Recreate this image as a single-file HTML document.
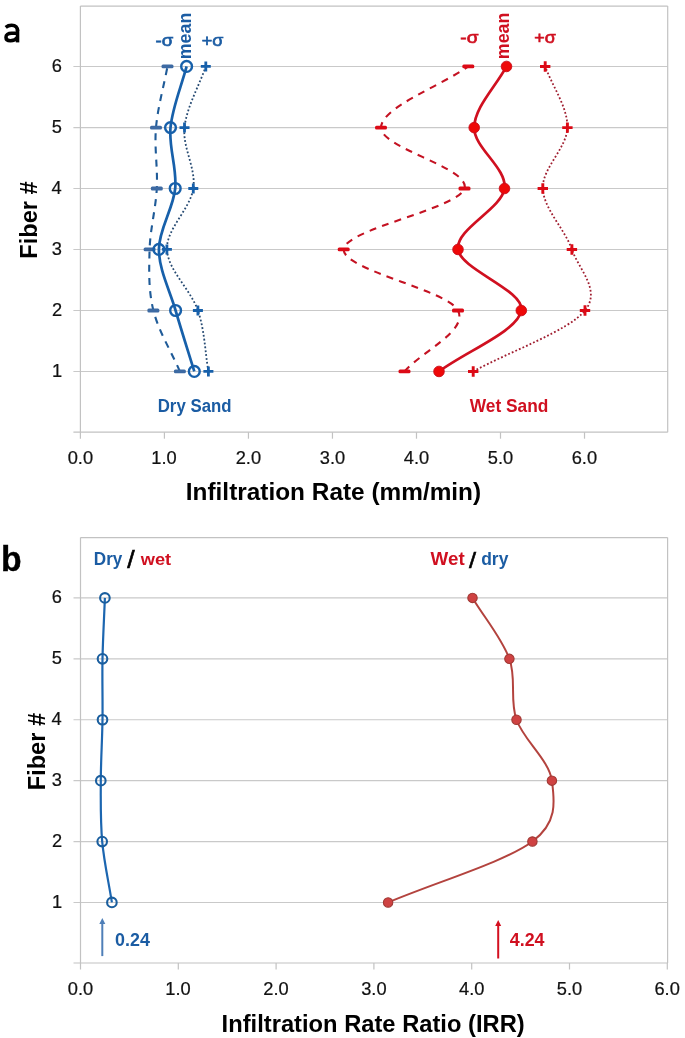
<!DOCTYPE html><html><head><meta charset="utf-8"><style>html,body{margin:0;padding:0;background:#fff;width:685px;height:1038px;overflow:hidden}svg{display:block;will-change:transform}</style></head><body><svg width="685" height="1038" viewBox="0 0 685 1038">
<rect width="685" height="1038" fill="#fff"/>
<line x1="73.4" y1="371.45" x2="667.7" y2="371.45" stroke="#c9c9c9" stroke-width="1.15"/>
<line x1="73.4" y1="310.5" x2="667.7" y2="310.5" stroke="#c9c9c9" stroke-width="1.15"/>
<line x1="73.4" y1="249.45" x2="667.7" y2="249.45" stroke="#c9c9c9" stroke-width="1.15"/>
<line x1="73.4" y1="188.5" x2="667.7" y2="188.5" stroke="#c9c9c9" stroke-width="1.15"/>
<line x1="73.4" y1="127.6" x2="667.7" y2="127.6" stroke="#c9c9c9" stroke-width="1.15"/>
<line x1="73.4" y1="66.45" x2="667.7" y2="66.45" stroke="#c9c9c9" stroke-width="1.15"/>
<line x1="80.4" y1="6.1" x2="667.7" y2="6.1" stroke="#c2c2c2" stroke-width="1.2"/>
<line x1="667.7" y1="6.1" x2="667.7" y2="432.2" stroke="#c2c2c2" stroke-width="1.2"/>
<line x1="80.4" y1="6.1" x2="80.4" y2="438.7" stroke="#c2c2c2" stroke-width="1.2"/>
<line x1="73.4" y1="432.2" x2="667.7" y2="432.2" stroke="#c2c2c2" stroke-width="1.2"/>
<line x1="164.42" y1="432.2" x2="164.42" y2="438.7" stroke="#c2c2c2" stroke-width="1.2"/>
<line x1="248.44" y1="432.2" x2="248.44" y2="438.7" stroke="#c2c2c2" stroke-width="1.2"/>
<line x1="332.46" y1="432.2" x2="332.46" y2="438.7" stroke="#c2c2c2" stroke-width="1.2"/>
<line x1="416.48" y1="432.2" x2="416.48" y2="438.7" stroke="#c2c2c2" stroke-width="1.2"/>
<line x1="500.5" y1="432.2" x2="500.5" y2="438.7" stroke="#c2c2c2" stroke-width="1.2"/>
<line x1="584.52" y1="432.2" x2="584.52" y2="438.7" stroke="#c2c2c2" stroke-width="1.2"/>
<line x1="73.5" y1="902.45" x2="667.6" y2="902.45" stroke="#c9c9c9" stroke-width="1.15"/>
<line x1="73.5" y1="841.55" x2="667.6" y2="841.55" stroke="#c9c9c9" stroke-width="1.15"/>
<line x1="73.5" y1="780.65" x2="667.6" y2="780.65" stroke="#c9c9c9" stroke-width="1.15"/>
<line x1="73.5" y1="719.75" x2="667.6" y2="719.75" stroke="#c9c9c9" stroke-width="1.15"/>
<line x1="73.5" y1="658.85" x2="667.6" y2="658.85" stroke="#c9c9c9" stroke-width="1.15"/>
<line x1="73.5" y1="597.9" x2="667.6" y2="597.9" stroke="#c9c9c9" stroke-width="1.15"/>
<line x1="80.5" y1="537.6" x2="667.6" y2="537.6" stroke="#c2c2c2" stroke-width="1.2"/>
<line x1="667.6" y1="537.6" x2="667.6" y2="963" stroke="#c2c2c2" stroke-width="1.2"/>
<line x1="80.5" y1="537.6" x2="80.5" y2="969.5" stroke="#c2c2c2" stroke-width="1.2"/>
<line x1="73.5" y1="963" x2="667.6" y2="963" stroke="#c2c2c2" stroke-width="1.2"/>
<line x1="178.3" y1="963" x2="178.3" y2="969.5" stroke="#c2c2c2" stroke-width="1.2"/>
<line x1="276.1" y1="963" x2="276.1" y2="969.5" stroke="#c2c2c2" stroke-width="1.2"/>
<line x1="373.9" y1="963" x2="373.9" y2="969.5" stroke="#c2c2c2" stroke-width="1.2"/>
<line x1="471.7" y1="963" x2="471.7" y2="969.5" stroke="#c2c2c2" stroke-width="1.2"/>
<line x1="569.5" y1="963" x2="569.5" y2="969.5" stroke="#c2c2c2" stroke-width="1.2"/>
<line x1="667.3" y1="963" x2="667.3" y2="969.5" stroke="#c2c2c2" stroke-width="1.2"/>
<text transform="translate(67.7 463.52) scale(0.1827 0.1817)" font-family="Liberation Sans" font-size="100" fill="#111" stroke="#111" stroke-width="1.2">0.0</text>
<text transform="translate(67.8 994.62) scale(0.1827 0.1817)" font-family="Liberation Sans" font-size="100" fill="#111" stroke="#111" stroke-width="1.2">0.0</text>
<text transform="translate(151.36 463.52) scale(0.1827 0.1817)" font-family="Liberation Sans" font-size="100" fill="#111" stroke="#111" stroke-width="1.2">1.0</text>
<text transform="translate(165.24 994.62) scale(0.1827 0.1817)" font-family="Liberation Sans" font-size="100" fill="#111" stroke="#111" stroke-width="1.2">1.0</text>
<text transform="translate(235.65 463.52) scale(0.1827 0.1817)" font-family="Liberation Sans" font-size="100" fill="#111" stroke="#111" stroke-width="1.2">2.0</text>
<text transform="translate(263.31 994.62) scale(0.1827 0.1817)" font-family="Liberation Sans" font-size="100" fill="#111" stroke="#111" stroke-width="1.2">2.0</text>
<text transform="translate(319.76 463.52) scale(0.1827 0.1817)" font-family="Liberation Sans" font-size="100" fill="#111" stroke="#111" stroke-width="1.2">3.0</text>
<text transform="translate(361.2 994.62) scale(0.1827 0.1817)" font-family="Liberation Sans" font-size="100" fill="#111" stroke="#111" stroke-width="1.2">3.0</text>
<text transform="translate(403.87 463.52) scale(0.1827 0.1817)" font-family="Liberation Sans" font-size="100" fill="#111" stroke="#111" stroke-width="1.2">4.0</text>
<text transform="translate(459.09 994.62) scale(0.1827 0.1817)" font-family="Liberation Sans" font-size="100" fill="#111" stroke="#111" stroke-width="1.2">4.0</text>
<text transform="translate(487.8 463.52) scale(0.1827 0.1817)" font-family="Liberation Sans" font-size="100" fill="#111" stroke="#111" stroke-width="1.2">5.0</text>
<text transform="translate(556.8 994.62) scale(0.1827 0.1817)" font-family="Liberation Sans" font-size="100" fill="#111" stroke="#111" stroke-width="1.2">5.0</text>
<text transform="translate(571.64 463.52) scale(0.1827 0.1817)" font-family="Liberation Sans" font-size="100" fill="#111" stroke="#111" stroke-width="1.2">6.0</text>
<text transform="translate(654.42 994.62) scale(0.1827 0.1817)" font-family="Liberation Sans" font-size="100" fill="#111" stroke="#111" stroke-width="1.2">6.0</text>
<text transform="translate(51.98 376.95) scale(0.1827 0.1817)" font-family="Liberation Sans" font-size="100" fill="#111" stroke="#111" stroke-width="1.2">1</text>
<text transform="translate(51.98 907.95) scale(0.1827 0.1817)" font-family="Liberation Sans" font-size="100" fill="#111" stroke="#111" stroke-width="1.2">1</text>
<text transform="translate(51.98 316) scale(0.1827 0.1817)" font-family="Liberation Sans" font-size="100" fill="#111" stroke="#111" stroke-width="1.2">2</text>
<text transform="translate(51.98 847.05) scale(0.1827 0.1817)" font-family="Liberation Sans" font-size="100" fill="#111" stroke="#111" stroke-width="1.2">2</text>
<text transform="translate(51.8 254.95) scale(0.1827 0.1817)" font-family="Liberation Sans" font-size="100" fill="#111" stroke="#111" stroke-width="1.2">3</text>
<text transform="translate(51.8 786.15) scale(0.1827 0.1817)" font-family="Liberation Sans" font-size="100" fill="#111" stroke="#111" stroke-width="1.2">3</text>
<text transform="translate(51.62 194) scale(0.1827 0.1817)" font-family="Liberation Sans" font-size="100" fill="#111" stroke="#111" stroke-width="1.2">4</text>
<text transform="translate(51.62 725.25) scale(0.1827 0.1817)" font-family="Liberation Sans" font-size="100" fill="#111" stroke="#111" stroke-width="1.2">4</text>
<text transform="translate(51.8 133.1) scale(0.1827 0.1817)" font-family="Liberation Sans" font-size="100" fill="#111" stroke="#111" stroke-width="1.2">5</text>
<text transform="translate(51.8 664.35) scale(0.1827 0.1817)" font-family="Liberation Sans" font-size="100" fill="#111" stroke="#111" stroke-width="1.2">5</text>
<text transform="translate(51.8 71.95) scale(0.1827 0.1817)" font-family="Liberation Sans" font-size="100" fill="#111" stroke="#111" stroke-width="1.2">6</text>
<text transform="translate(51.8 603.4) scale(0.1827 0.1817)" font-family="Liberation Sans" font-size="100" fill="#111" stroke="#111" stroke-width="1.2">6</text>
<path d="M179.9 371.45 C171.07 351.13 158.45 330.83 153.4 310.5 C148.35 290.17 149.03 269.78 149.6 249.45 C150.17 229.12 155.73 208.81 156.8 188.5 C157.87 168.19 154.22 147.94 156 127.6 C157.78 107.26 163.67 86.83 167.5 66.45" fill="none" stroke="#1f5b98" stroke-width="2.1" stroke-dasharray="7 6.2"/>
<path d="M208.4 371.45 C204.9 351.13 204.82 330.83 197.9 310.5 C190.98 290.17 167.67 269.78 166.9 249.45 C166.13 229.12 190.37 208.81 193.3 188.5 C196.23 168.19 182.42 147.94 184.5 127.6 C186.58 107.26 198.7 86.83 205.8 66.45" fill="none" stroke="#264a72" stroke-width="1.8" stroke-dasharray="1.8 2.1"/>
<path d="M186.6 66.45 C181.23 86.83 172.4 107.26 170.5 127.6 C168.6 147.94 177.13 168.19 175.2 188.5 C173.27 208.81 158.83 229.12 158.9 249.45 C158.97 269.78 169.7 290.17 175.6 310.5 C181.5 330.83 188.07 351.13 194.3 371.45" fill="none" stroke="#1760aa" stroke-width="2.7"/>
<path d="M404.5 371.45 C422.33 351.13 468.13 330.83 458 310.5 C447.87 290.17 342.62 269.78 343.7 249.45 C344.78 229.12 458.28 208.81 464.5 188.5 C470.72 168.19 380.37 147.94 381 127.6 C381.63 107.26 439.2 86.83 468.3 66.45" fill="none" stroke="#c41222" stroke-width="2.1" stroke-dasharray="7 6.2"/>
<path d="M473.2 371.45 C510.47 351.13 568.55 330.83 585 310.5 C601.45 290.17 578.93 269.78 571.9 249.45 C564.87 229.12 543.55 208.81 542.8 188.5 C542.05 168.19 567 147.94 567.4 127.6 C567.8 107.26 552.6 86.83 545.2 66.45" fill="none" stroke="#a01e30" stroke-width="1.8" stroke-dasharray="1.8 2.1"/>
<path d="M506.5 66.45 C495.73 86.83 474.53 107.26 474.2 127.6 C473.87 147.94 507.2 168.19 504.5 188.5 C501.8 208.81 455.2 229.12 458 249.45 C460.8 269.78 524.47 290.17 521.3 310.5 C518.13 330.83 466.43 351.13 439 371.45" fill="none" stroke="#d01020" stroke-width="2.7"/>
<rect x="161.5" y="64.55" width="12" height="3.8" rx="1.5" fill="#3d6aa3"/>
<rect x="150" y="125.7" width="12" height="3.8" rx="1.5" fill="#3d6aa3"/>
<rect x="150.8" y="186.6" width="12" height="3.8" rx="1.5" fill="#3d6aa3"/>
<rect x="143.6" y="247.55" width="12" height="3.8" rx="1.5" fill="#3d6aa3"/>
<rect x="147.4" y="308.6" width="12" height="3.8" rx="1.5" fill="#3d6aa3"/>
<rect x="173.9" y="369.55" width="12" height="3.8" rx="1.5" fill="#3d6aa3"/>
<path d="M200.8 66.45H210.8M205.8 61.45V71.45" stroke="#1760aa" stroke-width="2.8"/>
<path d="M179.5 127.6H189.5M184.5 122.6V132.6" stroke="#1760aa" stroke-width="2.8"/>
<path d="M188.3 188.5H198.3M193.3 183.5V193.5" stroke="#1760aa" stroke-width="2.8"/>
<path d="M161.9 249.45H171.9M166.9 244.45V254.45" stroke="#1760aa" stroke-width="2.8"/>
<path d="M192.9 310.5H202.9M197.9 305.5V315.5" stroke="#1760aa" stroke-width="2.8"/>
<path d="M203.4 371.45H213.4M208.4 366.45V376.45" stroke="#1760aa" stroke-width="2.8"/>
<circle cx="186.6" cy="66.45" r="5.4" fill="none" stroke="#1760aa" stroke-width="2.4"/>
<circle cx="170.5" cy="127.6" r="5.4" fill="none" stroke="#1760aa" stroke-width="2.4"/>
<circle cx="175.2" cy="188.5" r="5.4" fill="none" stroke="#1760aa" stroke-width="2.4"/>
<circle cx="158.9" cy="249.45" r="5.4" fill="none" stroke="#1760aa" stroke-width="2.4"/>
<circle cx="175.6" cy="310.5" r="5.4" fill="none" stroke="#1760aa" stroke-width="2.4"/>
<circle cx="194.3" cy="371.45" r="5.4" fill="none" stroke="#1760aa" stroke-width="2.4"/>
<rect x="462.3" y="64.55" width="12" height="3.8" rx="1.5" fill="#dc0a16"/>
<rect x="375" y="125.7" width="12" height="3.8" rx="1.5" fill="#dc0a16"/>
<rect x="458.5" y="186.6" width="12" height="3.8" rx="1.5" fill="#dc0a16"/>
<rect x="337.7" y="247.55" width="12" height="3.8" rx="1.5" fill="#dc0a16"/>
<rect x="452" y="308.6" width="12" height="3.8" rx="1.5" fill="#dc0a16"/>
<rect x="398.5" y="369.55" width="12" height="3.8" rx="1.5" fill="#dc0a16"/>
<path d="M540 66.45H550.4M545.2 61.25V71.65" stroke="#dc0a16" stroke-width="2.9"/>
<path d="M562.2 127.6H572.6M567.4 122.4V132.8" stroke="#dc0a16" stroke-width="2.9"/>
<path d="M537.6 188.5H548M542.8 183.3V193.7" stroke="#dc0a16" stroke-width="2.9"/>
<path d="M566.7 249.45H577.1M571.9 244.25V254.65" stroke="#dc0a16" stroke-width="2.9"/>
<path d="M579.8 310.5H590.2M585 305.3V315.7" stroke="#dc0a16" stroke-width="2.9"/>
<path d="M468 371.45H478.4M473.2 366.25V376.65" stroke="#dc0a16" stroke-width="2.9"/>
<circle cx="506.5" cy="66.45" r="5.3" fill="#ee0808" stroke="#c80c1a" stroke-width="0.9"/>
<circle cx="474.2" cy="127.6" r="5.3" fill="#ee0808" stroke="#c80c1a" stroke-width="0.9"/>
<circle cx="504.5" cy="188.5" r="5.3" fill="#ee0808" stroke="#c80c1a" stroke-width="0.9"/>
<circle cx="458" cy="249.45" r="5.3" fill="#ee0808" stroke="#c80c1a" stroke-width="0.9"/>
<circle cx="521.3" cy="310.5" r="5.3" fill="#ee0808" stroke="#c80c1a" stroke-width="0.9"/>
<circle cx="439" cy="371.45" r="5.3" fill="#ee0808" stroke="#c80c1a" stroke-width="0.9"/>
<path d="M104.9 597.9 C104.1 618.22 102.9 638.54 102.5 658.85 C102.1 679.16 102.78 699.45 102.5 719.75 C102.22 740.05 100.85 760.35 100.8 780.65 C100.75 800.95 100.35 821.25 102.2 841.55 C104.05 861.85 108.67 882.15 111.9 902.45" fill="none" stroke="#1c66b0" stroke-width="2.2"/>
<path d="M472.5 597.9 C484.8 618.22 502.07 638.54 509.4 658.85 C516.73 679.16 509.42 699.45 516.5 719.75 C523.58 740.05 549.25 760.35 551.9 780.65 C554.55 800.95 558.06 822.47 532.4 841.55 C505.1 861.85 436.2 882.15 388.1 902.45" fill="none" stroke="#b3433e" stroke-width="2.0"/>
<circle cx="104.9" cy="597.9" r="4.8" fill="none" stroke="#1a5e9e" stroke-width="2.1"/>
<circle cx="102.5" cy="658.85" r="4.8" fill="none" stroke="#1a5e9e" stroke-width="2.1"/>
<circle cx="102.5" cy="719.75" r="4.8" fill="none" stroke="#1a5e9e" stroke-width="2.1"/>
<circle cx="100.8" cy="780.65" r="4.8" fill="none" stroke="#1a5e9e" stroke-width="2.1"/>
<circle cx="102.2" cy="841.55" r="4.8" fill="none" stroke="#1a5e9e" stroke-width="2.1"/>
<circle cx="111.9" cy="902.45" r="4.8" fill="none" stroke="#1a5e9e" stroke-width="2.1"/>
<circle cx="472.5" cy="597.9" r="4.7" fill="#cf4242" stroke="#a13934" stroke-width="1.1"/>
<circle cx="509.4" cy="658.85" r="4.7" fill="#cf4242" stroke="#a13934" stroke-width="1.1"/>
<circle cx="516.5" cy="719.75" r="4.7" fill="#cf4242" stroke="#a13934" stroke-width="1.1"/>
<circle cx="551.9" cy="780.65" r="4.7" fill="#cf4242" stroke="#a13934" stroke-width="1.1"/>
<circle cx="532.4" cy="841.55" r="4.7" fill="#cf4242" stroke="#a13934" stroke-width="1.1"/>
<circle cx="388.1" cy="902.45" r="4.7" fill="#cf4242" stroke="#a13934" stroke-width="1.1"/>
<line x1="102.3" y1="921.9" x2="102.3" y2="956.1" stroke="#4f7fb8" stroke-width="2.0"/>
<path d="M102.3 917.9L105.3 923.9L99.3 923.9Z" fill="#4f7fb8"/>
<line x1="498.2" y1="923.9" x2="498.2" y2="958.5" stroke="#d41020" stroke-width="2.0"/>
<path d="M498.2 919.9L501.2 925.9L495.2 925.9Z" fill="#d41020"/>
<g fill="none" stroke="#000" stroke-width="3.5"><path d="M17.55 29.5V42.4"/><path d="M5.7 27.3C7.4 25.9 9.4 25.25 11.6 25.25C15.4 25.25 17.55 27 17.55 31"/><path d="M17.55 33.3H11.6C7.9 33.3 5.95 34.8 5.95 37.2C5.95 39.5 7.7 40.7 10.4 40.7C13.4 40.7 16 39.5 17.55 37.4"/></g>
<text transform="translate(0.88 570.85) scale(0.3373 0.3541)" font-family="Liberation Sans" font-weight="bold" font-size="100" fill="#000" stroke="#000" stroke-width="1">b</text>
<text transform="translate(185.79 499.7) scale(0.2440 0.2397)" font-family="Liberation Sans" font-weight="bold" font-size="100" fill="#000">Infiltration Rate (mm/min)</text>
<text transform="translate(221.59 1032.45) scale(0.2373 0.2404)" font-family="Liberation Sans" font-weight="bold" font-size="100" fill="#000">Infiltration Rate Ratio (IRR)</text>
<text transform="translate(37.36 258.65) rotate(-90) scale(0.2357 0.2419)" font-family="Liberation Sans" font-weight="bold" font-size="100" fill="#000">Fiber #</text>
<text transform="translate(44.65 790.36) rotate(-90) scale(0.2367 0.2459)" font-family="Liberation Sans" font-weight="bold" font-size="100" fill="#000">Fiber #</text>
<text transform="translate(155.53 45.99) scale(0.1860 0.1707)" font-family="Liberation Sans" font-weight="normal" font-size="100" fill="#1b5ca3" stroke="#1b5ca3" stroke-width="4">-σ</text>
<text transform="translate(201.66 45.51) scale(0.1797 0.1635)" font-family="Liberation Sans" font-weight="normal" font-size="100" fill="#1b5ca3" stroke="#1b5ca3" stroke-width="4">+σ</text>
<text transform="translate(191.02 59.25) rotate(-90) scale(0.1786 0.1782)" font-family="Liberation Sans" font-weight="bold" font-size="100" fill="#1b5ca3">mean</text>
<text transform="translate(460.32 43.28) scale(0.1903 0.1724)" font-family="Liberation Sans" font-weight="normal" font-size="100" fill="#d01020" stroke="#d01020" stroke-width="4">-σ</text>
<text transform="translate(534.36 43.2) scale(0.1788 0.1667)" font-family="Liberation Sans" font-weight="normal" font-size="100" fill="#d01020" stroke="#d01020" stroke-width="4">+σ</text>
<text transform="translate(508.92 59.25) rotate(-90) scale(0.1790 0.1782)" font-family="Liberation Sans" font-weight="bold" font-size="100" fill="#d01020">mean</text>
<text transform="translate(157.72 411.54) scale(0.1682 0.1745)" font-family="Liberation Sans" font-weight="bold" font-size="100" fill="#1b5ca3">Dry Sand</text>
<text transform="translate(469.7 411.72) scale(0.1734 0.1770)" font-family="Liberation Sans" font-weight="bold" font-size="100" fill="#d01020">Wet Sand</text>
<text transform="translate(93.8 565.17) scale(0.1711 0.1778)" font-family="Liberation Sans" font-weight="bold" font-size="100" fill="#1b5ca3">Dry</text>
<text transform="translate(127.37 568.04) scale(0.2667 0.2303)" font-family="Liberation Sans" font-weight="normal" font-size="100" fill="#000" stroke="#000" stroke-width="2.5">/</text>
<text transform="translate(140.7 565.33) scale(0.1825 0.1667)" font-family="Liberation Sans" font-weight="bold" font-size="100" fill="#d01020">wet</text>
<text transform="translate(430.6 565.31) scale(0.1878 0.1871)" font-family="Liberation Sans" font-weight="bold" font-size="100" fill="#d01020">Wet</text>
<text transform="translate(469.05 567.84) scale(0.2533 0.2276)" font-family="Liberation Sans" font-weight="normal" font-size="100" fill="#000" stroke="#000" stroke-width="2.5">/</text>
<text transform="translate(481.2 565.19) scale(0.1748 0.1766)" font-family="Liberation Sans" font-weight="bold" font-size="100" fill="#1b5ca3">dry</text>
<text transform="translate(115.09 945.71) scale(0.1787 0.1852)" font-family="Liberation Sans" font-weight="bold" font-size="100" fill="#1b5ca3">0.24</text>
<text transform="translate(509.74 945.9) scale(0.1786 0.1879)" font-family="Liberation Sans" font-weight="bold" font-size="100" fill="#d01020">4.24</text>
</svg></body></html>
